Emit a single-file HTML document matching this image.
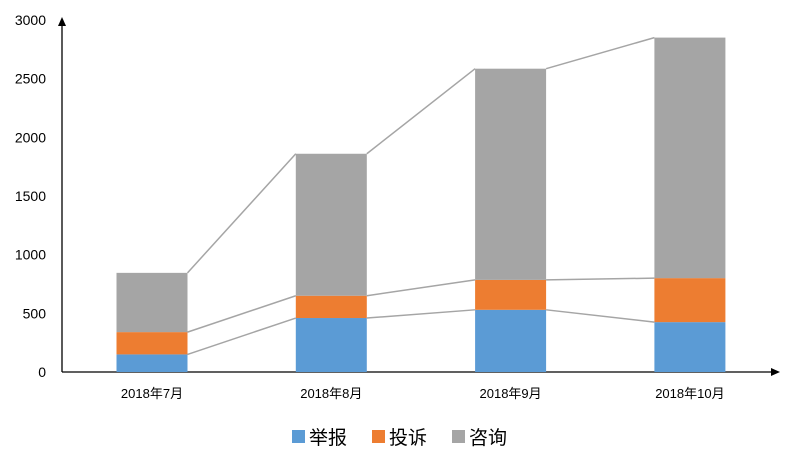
<!DOCTYPE html>
<html><head><meta charset="utf-8"><style>
body{margin:0;background:#fff;}
svg{display:block;font-family:"Liberation Sans","Noto Sans CJK SC",sans-serif;}
</style></head><body>
<svg id="chart" width="800" height="467"></svg>
<script>
const categories=["2018年7月","2018年8月","2018年9月","2018年10月"];
const reportVals=[150,460,530,425];
const complaintVals=[190,190,255,375];
const consultVals=[505,1210,1800,2050];
const yTicks=[0,500,1000,1500,2000,2500,3000];
const seriesNames=["举报","投诉","咨询"];
const colors=["#5b9bd5","#ed7d31","#a5a5a5"];
const NS="http://www.w3.org/2000/svg";
const svg=document.getElementById("chart");
const x0=62,y0=372,ppu=(372-20)/3000,step=179.3,first=152,bw=71;
const Y=v=>y0-v*ppu;
const X=i=>first+i*step;
function mk(t,a,p){const e=document.createElementNS(NS,t);for(const k in a)e.setAttribute(k,a[k]);(p||svg).appendChild(e);return e;}
// axes
let ax=mk("line",{x1:x0,y1:y0,x2:778,y2:y0,stroke:"#000","stroke-width":1.3});


let ay=mk("line",{x1:x0,y1:y0,x2:x0,y2:20,stroke:"#000","stroke-width":1.3});


let ar1=mk("path",{d:"M780,372 l-9,-4 v8 z",fill:"#000"});


let ar2=mk("path",{d:"M62,17 l-4,9 h8 z",fill:"#000"});


yTicks.forEach(v=>{
 const t=mk("text",{x:46,y:Y(v)+5,"text-anchor":"end","font-size":14,fill:"#000"});
 t.textContent=v;
 
 
});
const series=[reportVals,complaintVals,consultVals];
const tops=[[],[],[]];
categories.forEach((c,i)=>{
 let acc=0;
 series.forEach((s,k)=>{
  const y1=Y(acc),y2=Y(acc+s[i]);
  const r=mk("rect",{x:X(i)-bw/2,y:y2,width:bw,height:y1-y2,fill:colors[k]});
  
  
  acc+=s[i];tops[k].push(acc);
 });
 const t=mk("text",{x:X(i),y:398,"text-anchor":"middle","font-size":13,fill:"#000"});
 t.textContent=c;
 
 
});
// series lines
tops.forEach((tp,k)=>{
 for(let i=0;i<tp.length-1;i++){
  const l=mk("line",{x1:X(i)+bw/2,y1:Y(tp[i]),x2:X(i+1)-bw/2,y2:Y(tp[i+1]),stroke:"#a5a5a5","stroke-width":1.5});
  
  
 }
});
// legend
const lx=[292,372,452];
seriesNames.forEach((n,k)=>{
 const g=mk("g",{});
 
 
 mk("rect",{x:lx[k],y:430,width:13,height:13,fill:colors[k]},g);
 const t=mk("text",{x:lx[k]+17,y:444,"font-size":19,fill:"#000"},g);
 t.textContent=n;
});
</script>
</body></html>
